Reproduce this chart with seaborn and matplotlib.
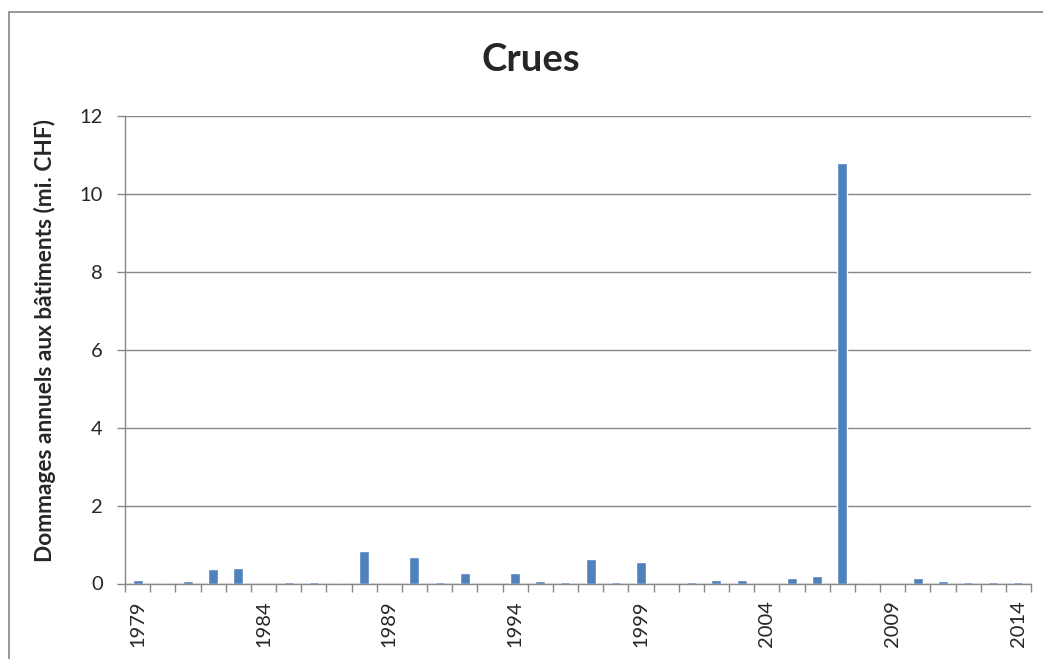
import numpy as np
import pandas as pd
import seaborn as sns
import matplotlib.pyplot as plt
from matplotlib.patches import Rectangle

# annual building damage from floods (million CHF)
years = list(range(1979, 2015))
damages = [0.10, 0.00, 0.07, 0.37, 0.40, 0.00, 0.04, 0.04, 0.00, 0.83,
           0.00, 0.67, 0.04, 0.28, 0.00, 0.28, 0.07, 0.04, 0.62, 0.04,
           0.56, 0.00, 0.04, 0.10, 0.10, 0.00, 0.13, 0.19, 10.80, 0.00,
           0.00, 0.15, 0.07, 0.04, 0.04, 0.04]
title = "Crues"
ylabel = "Dommages annuels aux bâtiments (mi. CHF)"

GRAY = "#868686"
BLUE = "#4F81BD"

sns.set_style("white")
plt.rcParams["font.family"] = ["Lato", "DejaVu Sans"]

df = pd.DataFrame({"year": [str(y) for y in years], "damage": damages})

fig = plt.figure(figsize=(10.43, 6.59), dpi=100)
W, H = 1043, 659
ax = fig.add_axes([125 / W, 1 - 583.5 / H, (1031 - 125) / W, (583.5 - 116) / H])

sns.barplot(data=df, x="year", y="damage", color=BLUE, width=0.4,
            saturation=1, ax=ax)

ax.set_xlim(-0.5, len(years) - 0.5)
ax.set_ylim(0, 12)
ax.set_yticks(np.arange(0, 13, 2))
ax.yaxis.grid(True, color=GRAY, linewidth=1)
ax.set_axisbelow(True)

# labels every 5 years at category centers, tick marks at boundaries
ax.set_xticks(range(0, len(years), 5))
ax.set_xticklabels([str(y) for y in years[::5]], rotation=90)
ax.set_xticks(np.arange(-0.5, len(years), 1), minor=True)
ax.tick_params(axis="x", which="major", length=0, pad=12, labelsize=14.5)
ax.tick_params(axis="x", which="minor", length=6, width=1, color=GRAY,
               direction="out", bottom=True)
ax.tick_params(axis="y", length=6, width=1, color=GRAY, pad=10,
               labelsize=14.5, left=True)

for side in ["top", "right"]:
    ax.spines[side].set_visible(False)
for side in ["left", "bottom"]:
    ax.spines[side].set_color(GRAY)
    ax.spines[side].set_linewidth(1)

ax.set_xlabel("")
ax.set_ylabel("")
fig.text(45 / W, 1 - 340 / H, ylabel, rotation=90, ha="center", va="center",
         fontsize=16.3, fontweight="bold")
fig.text(531 / W, 1 - 60 / H, title, ha="center", va="center",
         fontsize=27.5, fontweight="bold")

# chart area border (cropped on right and bottom)
fig.patches.append(Rectangle((9 / W, -0.1), 2, 1.1 - 12 / H,
                             transform=fig.transFigure, fill=False,
                             edgecolor=GRAY, linewidth=1.2))

fig.savefig("out.png", dpi=100)
